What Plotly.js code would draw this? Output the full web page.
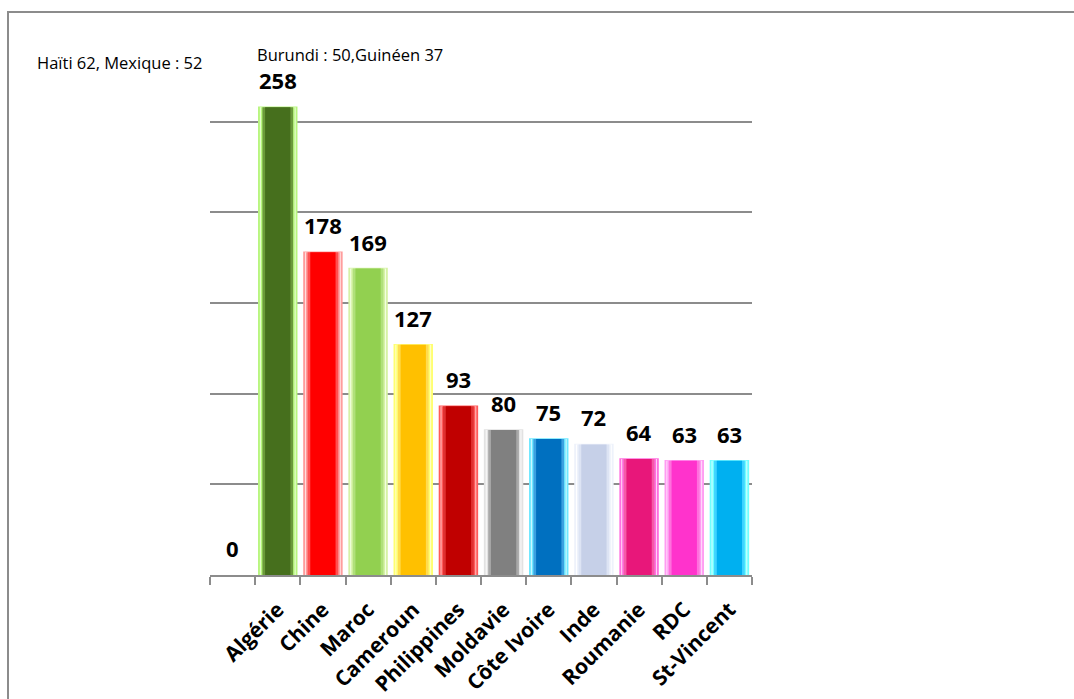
<!DOCTYPE html>
<html>
<head>
<meta charset="utf-8">
<script src="https://cdn.plot.ly/plotly-3.0.1.min.js"></script>
<style>
  html, body { margin: 0; padding: 0; background: #ffffff; }
  #chart { width: 1074px; height: 699px; }
</style>
</head>
<body>
<div id="chart"></div>
<script>
// ---- data ----
const categories = [" ", "Algérie", "Chine", "Maroc", "Cameroun", "Philippines", "Moldavie", "Côte Ivoire", "Inde", "Roumanie", "RDC", "St-Vincent"];
const values = [0, 258, 178, 169, 127, 93, 80, 75, 72, 64, 63, 63];
const noteLeft = "Haïti 62, Mexique : 52";
const noteTop = "Burundi : 50,Guinéen 37";

// ---- styles ----
const mainColors = ["#ffffff", "#466f1d", "#ff0000", "#92d050", "#ffc000", "#c00000", "#808080", "#0070c0", "#c6d0e8", "#e8177a", "#ff33cc", "#00b0f0"];
const edgeColors = ["#ffffff", "#b8f57e", "#ff9c9c", "#d6f2a6", "#ffff70", "#ff5a5a", "#e2e2e2", "#6fe8ff", "#eef2fb", "#ff70e0", "#ff9cf2", "#70ffff"];
const midColors  = ["#ffffff", "#6b9a3a", "#ff5050", "#b0e07a", "#ffdc50", "#e03030", "#a8a8a8", "#3aa0e0", "#dde4f4", "#f55aa8", "#ff70dd", "#40d4ff"];
const shineColors = ["#ffffff", "#f0ffe0", "#ffe6e6", "#f4ffe8", "#ffffd8", "#ffd0d0", "#ffffff", "#e0fbff", "#ffffff", "#ffe0f8", "#ffe6fc", "#e6ffff"];

const GRID = "#8c8c8c";

function barLayer(w, colors, lineW) {
  return {
    type: "bar", x: categories, y: values,
    width: categories.map(() => w),
    marker: { color: colors, line: { color: colors, width: lineW } },
    hoverinfo: "skip", showlegend: false
  };
}
const traces = [
  barLayer(0.84, edgeColors, 1.5),
  barLayer(0.79, shineColors, 0),
  barLayer(0.75, edgeColors, 0),
  barLayer(0.68, midColors, 0),
  barLayer(0.56, mainColors, 0)
];

const valueLabels = categories.map((c, i) => ({
  x: c, y: values[i], xref: "x", yref: "y",
  text: String(values[i]), showarrow: false,
  yanchor: "middle", yshift: 27,
  font: { family: "Open Sans", size: 22, color: "#000000", weight: 700 }
}));

const notes = [
  { xref: "paper", yref: "paper", x: -0.3229, y: 0.943, xanchor: "left", yanchor: "middle",
    text: noteLeft, showarrow: false,
    font: { family: "Open Sans", size: 16.5, color: "#000000" } },
  { xref: "paper", yref: "paper", x: 0.083, y: 0.957, xanchor: "left", yanchor: "middle",
    text: noteTop, showarrow: false,
    font: { family: "Open Sans", size: 16.5, color: "#000000" } }
];

const layout = {
  width: 1074, height: 699,
  margin: { l: 210, r: 322, t: 31, b: 124, pad: 0 },
  paper_bgcolor: "#ffffff", plot_bgcolor: "#ffffff",
  barmode: "overlay",
  showlegend: false,
  xaxis: {
    type: "category",
    range: [-0.5, 11.5],
    showline: true, linecolor: GRID, linewidth: 2,
    ticks: "outside", ticklen: 8, tickwidth: 2, tickcolor: GRID,
    tickson: "boundaries",
    tickangle: -45,
    ticklabelstandoff: 12,
    showgrid: false, zeroline: false,
    tickfont: { family: "Open Sans", size: 21, color: "#000000", weight: 700 },
    fixedrange: true
  },
  yaxis: {
    range: [0, 300], dtick: 50, tick0: 0,
    showgrid: true, gridcolor: GRID, gridwidth: 2,
    showticklabels: false, ticks: "", zeroline: false, showline: false,
    fixedrange: true
  },
  shapes: [
    { type: "rect", xref: "paper", yref: "paper",
      x0: -0.3727, x1: 1.8, y0: -0.4, y1: 1.0349,
      line: { color: GRID, width: 2 }, fillcolor: "rgba(0,0,0,0)", layer: "below" }
  ],
  annotations: valueLabels.concat(notes)
};

Plotly.newPlot("chart", traces, layout, { displayModeBar: false, staticPlot: true });
</script>
</body>
</html>
